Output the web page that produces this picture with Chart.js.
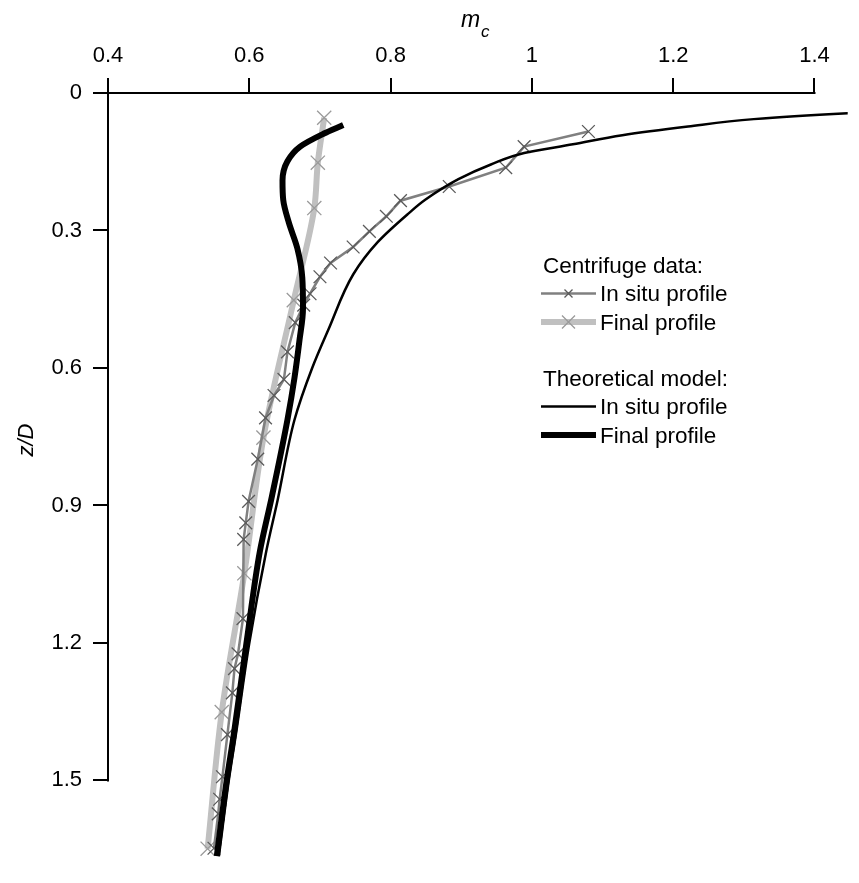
<!DOCTYPE html>
<html>
<head>
<meta charset="utf-8">
<script src="https://cdn.jsdelivr.net/npm/chart.js@4.4.1/dist/chart.umd.min.js"></script>
<style>
    html, body { margin: 0; padding: 0; background: #fff; }
    #wrap { width: 859px; height: 883px; }
</style>
</head>
<body>
<div id="wrap"><canvas id="mcChart" width="859" height="883"></canvas></div>
<script>
// Axis ticks
const xTickValues = [0.4, 0.6, 0.8, 1.0, 1.2, 1.4];
const xTickLabels = ['0.4', '0.6', '0.8', '1', '1.2', '1.4'];
const yTickValues = [0, 0.3, 0.6, 0.9, 1.2, 1.5];
const yTickLabels = ['0', '0.3', '0.6', '0.9', '1.2', '1.5'];

// Centrifuge data - in situ profile (m_c, z/D)
const cfInSituM = [1.080, 0.989, 0.963, 0.883, 0.814, 0.794, 0.770, 0.747, 0.715, 0.700, 0.686, 0.677, 0.665, 0.654, 0.649, 0.635, 0.623, 0.612, 0.599, 0.595, 0.592, 0.591, 0.584, 0.579, 0.576, 0.569, 0.562, 0.558, 0.556, 0.550];
const cfInSituZ = [0.084, 0.117, 0.163, 0.204, 0.235, 0.269, 0.302, 0.336, 0.371, 0.401, 0.438, 0.463, 0.501, 0.565, 0.625, 0.660, 0.709, 0.799, 0.891, 0.938, 0.974, 1.147, 1.224, 1.256, 1.309, 1.400, 1.492, 1.541, 1.573, 1.648];

// Centrifuge data - final profile
const cfFinalM = [0.706, 0.697, 0.692, 0.663, 0.620, 0.593, 0.561, 0.541];
const cfFinalZ = [0.054, 0.152, 0.251, 0.452, 0.752, 1.048, 1.351, 1.649];

// Theoretical model - in situ profile
const thInSituM = [1.560, 1.447, 1.314, 1.221, 1.128, 1.058, 0.989, 0.942, 0.896, 0.849, 0.826, 0.782, 0.747, 0.712, 0.689, 0.664, 0.640, 0.624, 0.600, 0.581, 0.571, 0.557];
const thInSituZ = [0.036, 0.044, 0.057, 0.073, 0.092, 0.112, 0.131, 0.156, 0.188, 0.233, 0.262, 0.325, 0.396, 0.516, 0.600, 0.713, 0.889, 1.000, 1.200, 1.400, 1.500, 1.665];

// Theoretical model - final profile
const thFinalM = [0.733, 0.705, 0.672, 0.654, 0.647, 0.648, 0.656, 0.668, 0.675, 0.676, 0.671, 0.664, 0.654, 0.632, 0.615, 0.596, 0.578, 0.568, 0.554];
const thFinalZ = [0.070, 0.089, 0.117, 0.149, 0.191, 0.233, 0.283, 0.339, 0.403, 0.470, 0.540, 0.621, 0.713, 0.880, 1.000, 1.200, 1.400, 1.500, 1.665];

const FONT = '"Liberation Sans", Arial, Helvetica, sans-serif';

function toPoints(ms, zs) {
    return ms.map((m, i) => ({ x: m, y: zs[i] }));
}

const datasets = [
    {
        label: 'Theoretical final',
        data: toPoints(thFinalM, thFinalZ),
        borderColor: '#000',
        borderWidth: 6,
        pointRadius: 0,
        cubicInterpolationMode: 'monotone',
        order: 0
    },
    {
        label: 'Theoretical in situ',
        data: toPoints(thInSituM, thInSituZ),
        borderColor: '#000',
        borderWidth: 2.5,
        pointRadius: 0,
        cubicInterpolationMode: 'monotone',
        order: 1
    },
    {
        label: 'Centrifuge in situ',
        data: toPoints(cfInSituM, cfInSituZ),
        borderColor: '#808080',
        borderWidth: 2.5,
        pointStyle: 'crossRot',
        pointRadius: 9,
        pointBorderWidth: 1.3,
        pointBorderColor: '#5a5a5a',
        tension: 0,
        order: 2
    },
    {
        label: 'Centrifuge final',
        data: toPoints(cfFinalM, cfFinalZ),
        borderColor: '#c0c0c0',
        borderWidth: 6,
        pointStyle: 'crossRot',
        pointRadius: 10,
        pointBorderWidth: 1.3,
        pointBorderColor: '#9a9a9a',
        cubicInterpolationMode: 'monotone',
        order: 3
    }
];

// axis lines only span the labelled range
const axisLinesPlugin = {
    id: 'axisLines',
    beforeDatasetsDraw(chart) {
        const { ctx, scales: { x, y } } = chart;
        const top = y.getPixelForValue(yTickValues[0]);
        const left = x.getPixelForValue(xTickValues[0]);
        ctx.save();
        ctx.strokeStyle = '#000';
        ctx.lineWidth = 2;
        ctx.beginPath();
        ctx.moveTo(left, top);
        ctx.lineTo(x.getPixelForValue(xTickValues[xTickValues.length - 1]) + 1, top);
        ctx.moveTo(left, top);
        ctx.lineTo(left, y.getPixelForValue(yTickValues[yTickValues.length - 1]) + 1);
        ctx.stroke();
        ctx.restore();
    }
};

// axis titles m_c and z/D
const titlesPlugin = {
    id: 'axisTitles',
    afterDraw(chart) {
        const ctx = chart.ctx;
        ctx.save();
        ctx.fillStyle = '#000';
        ctx.textBaseline = 'alphabetic';
        ctx.font = 'italic 23px ' + FONT;
        ctx.fillText('m', 461, 27);
        ctx.font = 'italic 17px ' + FONT;
        ctx.fillText('c', 481, 37);

        ctx.translate(33, 440);
        ctx.rotate(-Math.PI / 2);
        ctx.textAlign = 'center';
        ctx.font = 'italic 22px ' + FONT;
        ctx.fillText('z/D', 0, 0);
        ctx.restore();
    }
};

// two-group legend drawn from the dataset styles
const legendGroups = [
    { title: 'Centrifuge data:', items: [['Centrifuge in situ', 'In situ profile', 8], ['Centrifuge final', 'Final profile', 13]] },
    { title: 'Theoretical model:', items: [['Theoretical in situ', 'In situ profile', 0], ['Theoretical final', 'Final profile', 0]] }
];

const legendPlugin = {
    id: 'groupLegend',
    afterDraw(chart) {
        const ctx = chart.ctx;
        const x0 = 541, x1 = 596, textX = 600;
        let baseY = 273;
        ctx.save();
        ctx.font = '22.5px ' + FONT;
        ctx.fillStyle = '#000';
        ctx.textBaseline = 'alphabetic';
        legendGroups.forEach(group => {
            ctx.fillText(group.title, 543, baseY);
            baseY += 28;
            group.items.forEach(([dsLabel, text, markSize]) => {
                const ds = chart.data.datasets.find(d => d.label === dsLabel);
                const cy = baseY - 7.5;
                ctx.strokeStyle = ds.borderColor;
                ctx.lineWidth = ds.borderWidth;
                ctx.beginPath();
                ctx.moveTo(x0, cy);
                ctx.lineTo(x1, cy);
                ctx.stroke();
                if (markSize) {
                    const cx = (x0 + x1) / 2;
                    const h = markSize / 2;
                    ctx.strokeStyle = ds.pointBorderColor;
                    ctx.lineWidth = ds.pointBorderWidth;
                    ctx.beginPath();
                    ctx.moveTo(cx - h, cy - h);
                    ctx.lineTo(cx + h, cy + h);
                    ctx.moveTo(cx - h, cy + h);
                    ctx.lineTo(cx + h, cy - h);
                    ctx.stroke();
                }
                ctx.fillStyle = '#000';
                ctx.fillText(text, textX, baseY);
                baseY += 28.5;
            });
            baseY += 28;
        });
        ctx.restore();
    }
};

const ctx = document.getElementById('mcChart').getContext('2d');
const mcChart = new Chart(ctx, {
    type: 'line',
    data: { datasets: datasets },
    options: {
        indexAxis: 'y',
        responsive: false,
        animation: false,
        devicePixelRatio: 1,
        layout: { padding: 0 },
        plugins: {
            legend: { display: false },
            tooltip: { enabled: false }
        },
        scales: {
            x: {
                type: 'linear',
                position: 'top',
                min: 0.4,
                max: 1.447,
                afterBuildTicks: s => { s.ticks = xTickValues.map(v => ({ value: v })); },
                afterFit: s => { s.height = 93; },
                ticks: {
                    color: '#000',
                    padding: 9,
                    maxRotation: 0,
                    font: { family: FONT, size: 22 },
                    callback: (v, i) => xTickLabels[i]
                },
                grid: { drawOnChartArea: false, drawTicks: true, tickLength: 15, color: '#000', lineWidth: 2 },
                border: { display: false }
            },
            y: {
                type: 'linear',
                position: 'left',
                reverse: true,
                min: 0,
                max: 1.671,
                afterBuildTicks: s => { s.ticks = yTickValues.map(v => ({ value: v })); },
                afterFit: s => { s.width = 108; },
                ticks: {
                    color: '#000',
                    padding: 11,
                    font: { family: FONT, size: 22 },
                    callback: (v, i) => yTickLabels[i]
                },
                grid: { drawOnChartArea: false, drawTicks: true, tickLength: 15, color: '#000', lineWidth: 2 },
                border: { display: false }
            }
        }
    },
    plugins: [axisLinesPlugin, titlesPlugin, legendPlugin]
});
</script>
</body>
</html>
